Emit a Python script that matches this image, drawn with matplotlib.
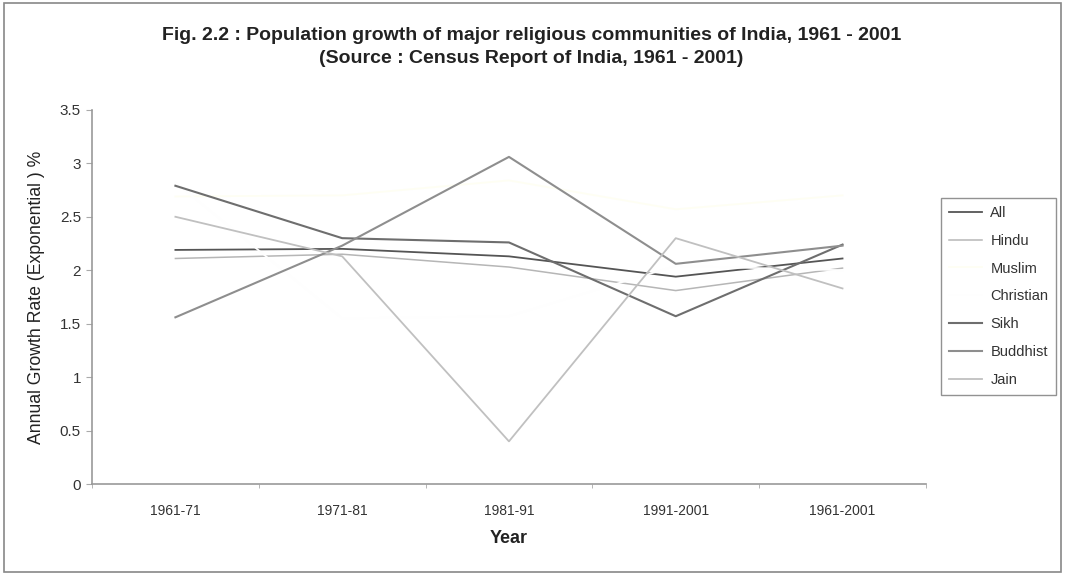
import matplotlib
matplotlib.use("Agg")
import matplotlib.pyplot as plt
from matplotlib.patches import Rectangle
from matplotlib.ticker import FixedLocator, NullFormatter

plt.rcParams['font.family'] = ['Liberation Sans', 'DejaVu Sans']

periods = ["1961-71", "1971-81", "1981-91", "1991-2001", "1961-2001"]

all_india = [2.19, 2.20, 2.13, 1.94, 2.11]
hindu = [2.11, 2.15, 2.03, 1.81, 2.02]
muslim = [2.69, 2.70, 2.84, 2.57, 2.70]
christian = [2.82, 1.55, 1.57, 2.04, 2.00]
sikh = [2.79, 2.30, 2.26, 1.57, 2.24]
buddhist = [1.56, 2.23, 3.06, 2.06, 2.23]
jain = [2.50, 2.13, 0.40, 2.30, 1.83]

series = [
    ("All", all_india, "#555555", 1.3),
    ("Hindu", hindu, "#b6b6b6", 1.1),
    ("Muslim", muslim, "#fefef3", 1.3),
    ("Christian", christian, "#fefefe", 1.3),
    ("Sikh", sikh, "#6e6e6e", 1.5),
    ("Buddhist", buddhist, "#8e8e8e", 1.5),
    ("Jain", jain, "#c0c0c0", 1.3),
]

fig = plt.figure(figsize=(10.65, 5.75), dpi=100)
ax = fig.add_axes([0.0864, 0.158, 0.783, 0.651])

x = list(range(len(periods)))
for name, vals, color, lw in series:
    ax.plot(x, vals, color=color, lw=lw, label=name)

ax.set_xlim(-0.5, len(periods) - 0.5)
ax.set_ylim(0, 3.5)
ax.set_yticks([0, 0.5, 1, 1.5, 2, 2.5, 3, 3.5])
ax.set_yticklabels(["0", "0.5", "1", "1.5", "2", "2.5", "3", "3.5"])
ax.set_xticks(x)
ax.set_xticklabels(periods)
ax.xaxis.set_minor_locator(FixedLocator([i - 0.5 for i in range(len(periods) + 1)]))
ax.xaxis.set_minor_formatter(NullFormatter())
ax.tick_params(axis='x', which='major', length=0, pad=14, labelsize=10, colors='#333333')
ax.tick_params(axis='x', which='minor', length=3, color='#aaaaaa')
ax.tick_params(axis='y', length=4, color='#aaaaaa', labelsize=11, labelcolor='#333333', pad=4)

for side in ("top", "right"):
    ax.spines[side].set_visible(False)
for side in ("left", "bottom"):
    ax.spines[side].set_color("#999999")
    ax.spines[side].set_linewidth(1.2)

ax.set_xlabel("Year", fontsize=13, fontweight="bold", color="#222222", labelpad=9)
ax.set_ylabel("Annual Growth Rate (Exponential ) %", fontsize=12.7, color="#222222", labelpad=11)

fig.text(0.499, 0.939, "Fig. 2.2 : Population growth of major religious communities of India, 1961 - 2001",
         ha="center", va="center", fontsize=14, fontweight="bold", color="#222222")
fig.text(0.499, 0.899, "(Source : Census Report of India, 1961 - 2001)",
         ha="center", va="center", fontsize=14, fontweight="bold", color="#222222")

leg = fig.legend(loc="upper left", bbox_to_anchor=(0.884, 0.656), fontsize=10.5,
                 frameon=True, fancybox=False, handlelength=2.2, handletextpad=0.6,
                 labelspacing=0.95, borderpad=0.55, borderaxespad=0)
leg.get_frame().set_edgecolor("#777777")
leg.get_frame().set_linewidth(1.0)
for t in leg.get_texts():
    t.set_color("#333333")

fig.patches.append(Rectangle((0.004, 0.005), 0.992, 0.99, transform=fig.transFigure,
                             fill=False, edgecolor="#888888", lw=1.2))

fig.savefig("out.png", dpi=100, facecolor="white")
